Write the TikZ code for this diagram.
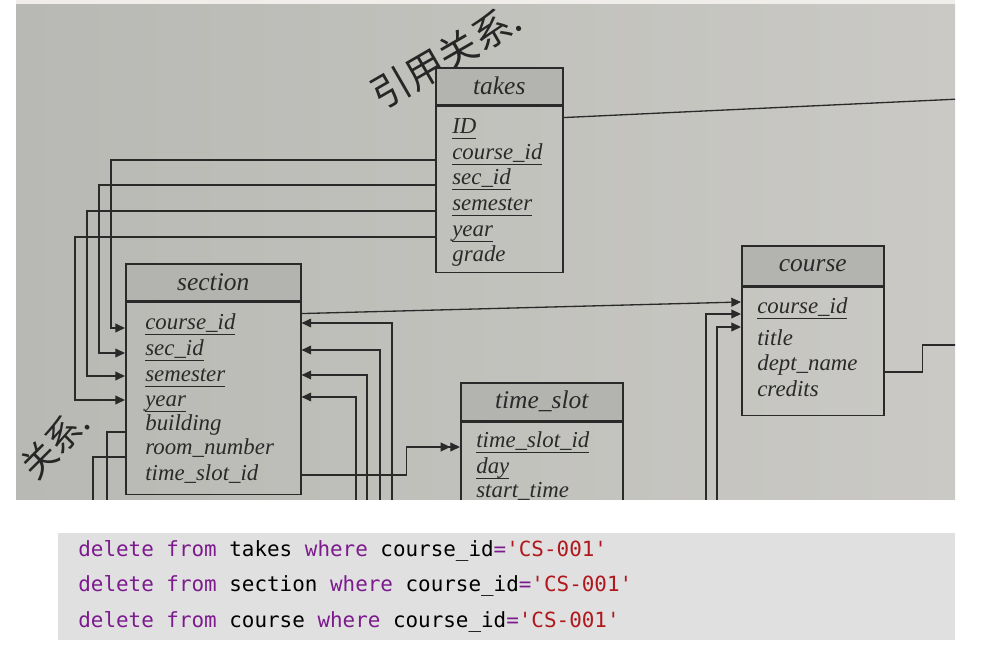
\documentclass[tikz,border=0pt]{standalone}
\usepackage{fontspec}
\setmainfont{Liberation Serif}
\setmonofont{DejaVu Sans Mono}
\newfontfamily\cjk{Noto Sans CJK SC}
\usepackage{tikz}
\usetikzlibrary{arrows.meta}
\usetikzlibrary{calc}

\definecolor{paperL}{HTML}{B8B9B4}
\definecolor{paperR}{HTML}{CAC9C5}
\definecolor{topStrip}{HTML}{EFEEEA}
\definecolor{headFill}{HTML}{B3B4B0}
\definecolor{ink}{HTML}{2A2A2A}
\definecolor{codeBg}{HTML}{E0E0E0}
\definecolor{kwColor}{HTML}{7C1A8E}
\definecolor{strColor}{HTML}{B0181C}

\newcommand{\kwd}[1]{\textcolor{kwColor}{#1}}
\newcommand{\strlit}[1]{\textcolor{strColor}{#1}}
% key attributes: rule just under the baseline
\newcommand{\pkey}[1]{\setbox0\hbox{#1}\rlap{\rule[-2.6pt]{\wd0}{0.5pt}}\box0}

\tikzset{
  tblHead/.style={draw=ink, fill=headFill, line width=0.9pt, inner sep=0pt,
    anchor=north west, text=ink, font=\fontsize{14.5}{16}\selectfont\itshape},
  tblBody/.style={draw=ink, line width=0.9pt, inner sep=0pt, anchor=north west},
  fld/.style={anchor=base west, inner sep=0pt, text=ink,
    font=\fontsize{13}{15}\selectfont\itshape},
  link/.style={draw=ink, line width=0.75pt},
  ref/.style={link, -{Triangle[length=5.5pt,width=5pt]}},
  dblRef/.style={link, -{Triangle[length=5.5pt,width=5pt]Triangle[length=5.5pt,width=5pt]}},
  hand/.style={inner sep=0pt, text=black!85, font=\cjk\fontsize{22}{22}\selectfont},
  sqlLine/.style={anchor=base west, inner sep=0pt, font=\fontsize{11.9}{14}\ttfamily},
}

\begin{document}
\begin{tikzpicture}[x=0.02cm, y=-0.02cm]
    \useasboundingbox (0,0) rectangle (985,645);
    \fill[topStrip] (16,0) rectangle (955,5);

    \begin{scope}
        \clip (16,5) rectangle (955,500);
        \shade[left color=paperL, right color=paperR] (16,5) rectangle (955,500);

        \node[hand, rotate=30] (noteTop) at (446,57) {引用关系.};
        \node[hand, rotate=45, font=\cjk\fontsize{20}{20}\selectfont] (noteLeft) at (55,444) {关系.};

        % tables
        \node[tblHead, minimum width=2.54cm, minimum height=0.74cm] (takes) at (435,67) {takes};
        \node[tblBody, minimum width=2.54cm, minimum height=3.32cm] (takesBody) at (takes.south west) {};
        \node[tblHead, minimum width=3.5cm, minimum height=0.74cm] (section) at (125,263) {section};
        \node[tblBody, minimum width=3.5cm, minimum height=3.84cm] (secBody) at (section.south west) {};
        \node[tblHead, minimum width=3.24cm, minimum height=0.76cm] (timeSlot) at (460,382) {time\_slot};
        \node[tblBody, minimum width=3.24cm, minimum height=3cm] (tsBody) at (timeSlot.south west) {};
        \node[tblHead, minimum width=2.84cm, minimum height=0.8cm] (course) at (741,245) {course};
        \node[tblBody, minimum width=2.84cm, minimum height=2.56cm] (crsBody) at (course.south west) {};

        \node[fld] (tkId)   at (452,134) {\pkey{ID}};
        \node[fld] (tkCid)  at (452,160) {\pkey{course\_id}};
        \node[fld] (tkSid)  at (452,185) {\pkey{sec\_id}};
        \node[fld] (tkSem)  at (452,211) {\pkey{semester}};
        \node[fld] (tkYear) at (452,237) {\pkey{year}};
        \node[fld] (tkGrade) at (452,262) {grade};

        \node[fld] (secCid)   at (145,330) {\pkey{course\_id}};
        \node[fld] (secSid)   at (145,356) {\pkey{sec\_id}};
        \node[fld] (secSem)   at (145,382) {\pkey{semester}};
        \node[fld] (secYear)  at (145,407) {\pkey{year}};
        \node[fld] (secBuild) at (145,431) {building};
        \node[fld] (secRoom)  at (145,455) {room\_number};
        \node[fld] (secTsid)  at (145,480) {time\_slot\_id};

        \node[fld] (tsId)    at (476,448) {\pkey{time\_slot\_id}};
        \node[fld] (tsDay)   at (476,474) {\pkey{day}};
        \node[fld] (tsStart) at (476,498) {\pkey{start\_time}};

        \node[fld] (crsCid)   at (757,314) {\pkey{course\_id}};
        \node[fld] (crsTitle) at (757,346) {title};
        \node[fld] (crsDept)  at (757,371) {dept\_name};
        \node[fld] (crsCred)  at (757,397) {credits};

        % loose ends at the photo border
        \coordinate (belowA) at (392,505);
        \coordinate (belowB) at (380,505);
        \coordinate (belowC) at (367,505);
        \coordinate (belowD) at (356,505);
        \coordinate (belowE) at (706,505);
        \coordinate (belowF) at (717,505);
        \coordinate (downA) at (107,505);
        \coordinate (downB) at (93,505);
        \coordinate (rightA) at (960,345);
        \coordinate (rightB) at (960,99);

        % takes -> section
        \draw[ref] (tkCid.base -| takesBody.west) -- ++(-324,0) |- ($(secCid.base -| secBody.west)+(0,-2)$);
        \draw[ref] (tkSid.base -| takesBody.west) -- ++(-336,0) |- ($(secSid.base -| secBody.west)+(0,-3)$);
        \draw[ref] (tkSem.base -| takesBody.west) -- ++(-348,0) |- ($(secSem.base -| secBody.west)+(0,-6)$);
        \draw[ref] (tkYear.base -| takesBody.west) -- ++(-360,0) |- ($(secYear.base -| secBody.west)+(0,-7)$);
        \draw[link] ($(takesBody.north east)+(0,12)$) -- (rightB);

        % into section from below
        \draw[ref] (belowA) |- ($(secCid.base -| secBody.east)+(0,-7)$);
        \draw[ref] (belowB) |- ($(secSid.base -| secBody.east)+(0,-6)$);
        \draw[ref] (belowC) |- ($(secSem.base -| secBody.east)+(0,-7)$);
        \draw[ref] (belowD) |- ($(secYear.base -| secBody.east)+(0,-10)$);
        \draw[link] ($(secBuild.base -| secBody.west)+(0,1)$) -| (downA);
        \draw[link] ($(secRoom.base -| secBody.west)+(0,2)$) -| (downB);

        \draw[dblRef] ($(secTsid.base -| secBody.east)+(0,-5)$) -- ++(105,0) |- ($(tsId.base -| tsBody.west)+(0,-1)$);
        \draw[ref] ($(secBody.north east)+(0,12)$) -- ($(crsCid.base -| crsBody.west)+(0,-12)$);

        % into course from below
        \draw[ref] (belowE) |- (crsCid.base -| crsBody.west);
        \draw[ref] (belowF) |- ($(crsCid.base -| crsBody.west)+(0,13)$);
        \draw[link] ($(crsDept.base -| crsBody.east)+(0,1)$) -- ++(38,0) |- (rightA);
    \end{scope}

    \fill[codeBg] (58,533) rectangle (955,640);
    \node[sqlLine] (sqlTakes) at (78,557) {\kwd{delete} \kwd{from} takes \kwd{where} course\_id\kwd{=}\strlit{'CS-001'}};
    \node[sqlLine] (sqlSection) at (78,592) {\kwd{delete} \kwd{from} section \kwd{where} course\_id\kwd{=}\strlit{'CS-001'}};
    \node[sqlLine] (sqlCourse) at (78,627) {\kwd{delete} \kwd{from} course \kwd{where} course\_id\kwd{=}\strlit{'CS-001'}};
\end{tikzpicture}
\end{document}
